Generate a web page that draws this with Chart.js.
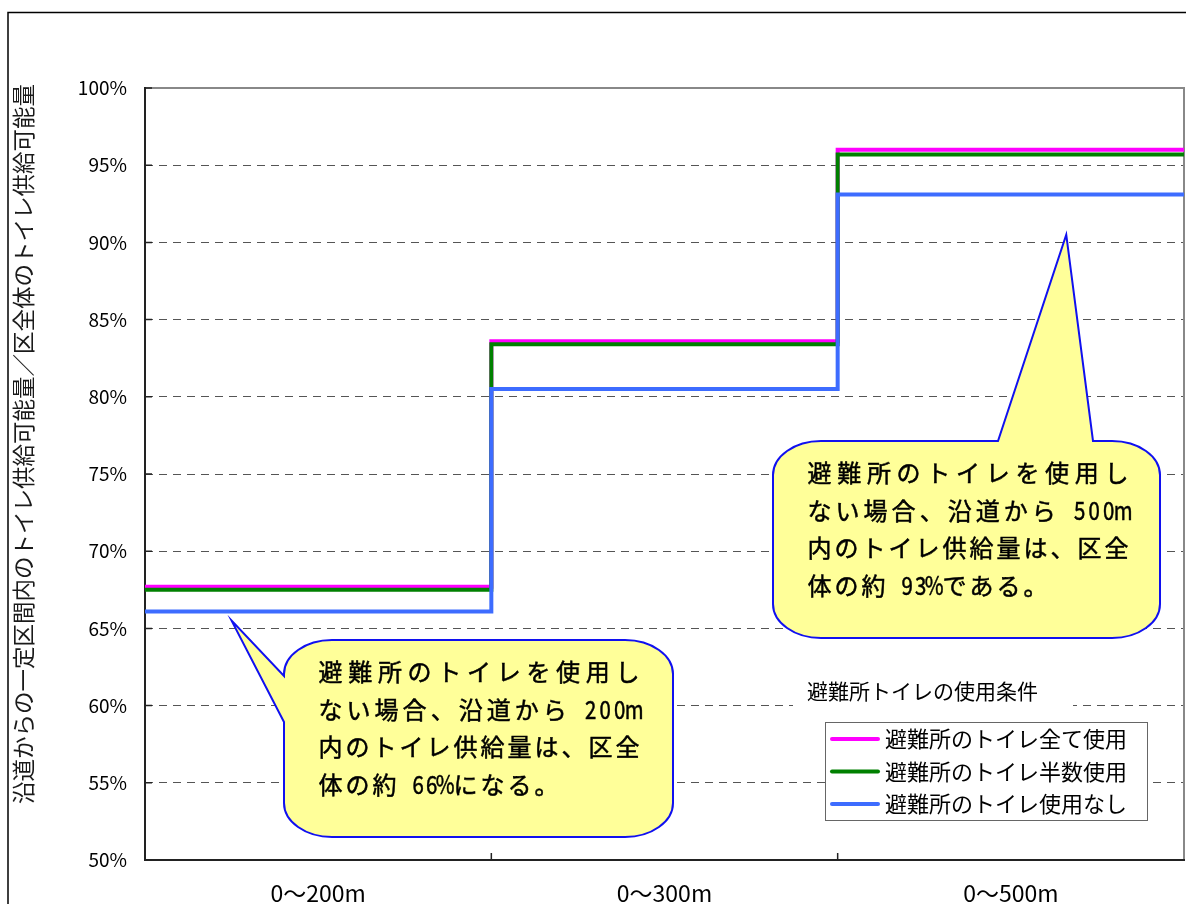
<!DOCTYPE html>
<html>
<head>
<meta charset="utf-8">
<script src="https://cdn.jsdelivr.net/npm/chart.js@4.4.1/dist/chart.umd.min.js"></script>
<style>
  html, body { margin: 0; padding: 0; background: #fff; }
  #wrap { width: 1186px; height: 904px; position: relative; }
</style>
</head>
<body>
<div id="wrap"><canvas id="chart"></canvas></div>
<script>
const categories = ['0〜200m', '0〜300m', '0〜500m'];
const seriesNames = ['避難所のトイレ全て使用', '避難所のトイレ半数使用', '避難所のトイレ使用なし'];
const allUse = [67.7, 83.6, 96.0];
const halfUse = [67.5, 83.4, 95.7];
const noUse = [66.1, 80.5, 93.1];
const yTicks = [50, 55, 60, 65, 70, 75, 80, 85, 90, 95, 100];
const yTitle = '沿道からの一定区間内のトイレ供給可能量／区全体のトイレ供給可能量';
const legendTitle = '避難所トイレの使用条件';
const note200 = ['避難所のトイレを使用し', 'ない場合、沿道から 200m', '内のトイレ供給量は、区全', '体の約 66%になる。'];
const note500 = ['避難所のトイレを使用し', 'ない場合、沿道から 500m', '内のトイレ供給量は、区全', '体の約 93%である。'];

const JP = '"Noto Sans CJK JP", "Noto Sans", sans-serif';

// each category is one step: x = i .. i+1
const steps = vals => vals.map((v, i) => ({ x: i, y: v })).concat([{ x: vals.length, y: vals[vals.length - 1] }]);

// callout boxes (pixels) with the pointer tip anchored in data units
const callouts = [
  { lines: note200, box: { l: 284, t: 640, r: 673, b: 837 }, tip: { x: 0.25, y: 65.5 }, side: 'left', base: [676, 722] },
  { lines: note500, box: { l: 773, t: 441, r: 1160, b: 638 }, tip: { x: 2.66, y: 90.5 }, side: 'top', base: [998, 1093] },
];

function calloutPath(ctx, c, tip) {
  const { l, t, r, b } = c.box;
  const rx = 48, ry = 34, k = 0.5523;
  ctx.beginPath();
  ctx.moveTo(l + rx, t);
  if (c.side === 'top') {
    ctx.lineTo(c.base[0], t);
    ctx.lineTo(tip.x, tip.y);
    ctx.lineTo(c.base[1], t);
  }
  ctx.lineTo(r - rx, t);
  ctx.bezierCurveTo(r - rx + rx * k, t, r, t + ry - ry * k, r, t + ry);
  ctx.lineTo(r, b - ry);
  ctx.bezierCurveTo(r, b - ry + ry * k, r - rx + rx * k, b, r - rx, b);
  ctx.lineTo(l + rx, b);
  ctx.bezierCurveTo(l + rx - rx * k, b, l, b - ry + ry * k, l, b - ry);
  if (c.side === 'left') {
    ctx.lineTo(l, c.base[1]);
    ctx.lineTo(tip.x, tip.y);
    ctx.lineTo(l, c.base[0]);
  }
  ctx.lineTo(l, t + ry);
  ctx.bezierCurveTo(l, t + ry - ry * k, l + rx - rx * k, t, l + rx, t);
  ctx.closePath();
}

function drawNote(ctx, lines, x, y) {
  const full = 27, half = 13.5, width = 324, lh = 37.5;
  ctx.font = '24px ' + JP;
  ctx.fillStyle = '#000';
  ctx.strokeStyle = '#000';
  ctx.lineWidth = 0.5;
  ctx.textAlign = 'center';
  ctx.textBaseline = 'middle';
  lines.forEach((line, li) => {
    const chars = Array.from(line);
    const adv = chars.map(ch => ch.charCodeAt(0) < 0x2000 ? half : full);
    const nat = adv.reduce((a, v) => a + v, 0);
    const extra = li < lines.length - 1 ? (width - nat) / (chars.length - 1) : 0;
    let cx = x;
    chars.forEach((ch, i) => {
      ctx.save();
      ctx.translate(cx + adv[i] / 2, y + li * lh);
      if (adv[i] === half) ctx.scale(0.85, 1.05);
      ctx.fillText(ch, 0, 0);
      ctx.strokeText(ch, 0, 0);
      ctx.restore();
      cx += adv[i] + extra;
    });
  });
}

const decor = {
  id: 'decor',
  beforeDraw(chart) {
    const ctx = chart.ctx;
    ctx.save();
    ctx.fillStyle = '#fff';
    ctx.fillRect(0, 0, chart.width, chart.height);
    // outer frame
    ctx.strokeStyle = '#000';
    ctx.lineWidth = 1.5;
    ctx.beginPath();
    ctx.moveTo(8, chart.height);
    ctx.lineTo(8, 12.5);
    ctx.lineTo(chart.width, 12.5);
    ctx.stroke();
    // y title
    ctx.translate(23, 444);
    ctx.rotate(-Math.PI / 2);
    ctx.font = '22.5px ' + JP;
    ctx.fillStyle = '#1a1a1a';
    ctx.textAlign = 'center';
    ctx.textBaseline = 'middle';
    ctx.fillText(yTitle, 0, 0);
    ctx.restore();
  },
  beforeDatasetsDraw(chart) {
    const { ctx, chartArea: a, scales: { x, y } } = chart;
    ctx.save();
    ctx.lineWidth = 2;
    ctx.strokeStyle = '#888';
    ctx.beginPath();
    ctx.moveTo(a.left, a.top);
    ctx.lineTo(a.right, a.top);
    ctx.lineTo(a.right, a.bottom);
    ctx.stroke();
    ctx.strokeStyle = '#222';
    ctx.beginPath();
    ctx.moveTo(a.left, a.top - 1);
    ctx.lineTo(a.left, a.bottom);
    ctx.lineTo(a.right + 1, a.bottom);
    ctx.stroke();
    // inside tick marks
    ctx.lineWidth = 1.5;
    ctx.beginPath();
    yTicks.forEach(v => {
      const py = y.getPixelForValue(v);
      ctx.moveTo(a.left, py);
      ctx.lineTo(a.left + 7, py);
    });
    for (let i = 1; i < categories.length; i++) {
      const px = x.getPixelForValue(i);
      ctx.moveTo(px, a.bottom);
      ctx.lineTo(px, a.bottom - 7);
    }
    ctx.stroke();
    ctx.restore();
  },
  afterDraw(chart) {
    const { ctx, scales: { x, y } } = chart;
    ctx.save();
    callouts.forEach(c => {
      const tip = { x: x.getPixelForValue(c.tip.x), y: y.getPixelForValue(c.tip.y) };
      calloutPath(ctx, c, tip);
      ctx.fillStyle = '#ffff99';
      ctx.fill();
      ctx.strokeStyle = '#1010f0';
      ctx.lineWidth = 2;
      ctx.stroke();
      drawNote(ctx, c.lines, c.box.l + 33, c.box.t + 32);
    });

    // legend
    ctx.fillStyle = '#fff';
    ctx.fillRect(793, 672, 280, 38);
    ctx.fillStyle = '#000';
    ctx.font = '21px ' + JP;
    ctx.textAlign = 'left';
    ctx.textBaseline = 'middle';
    ctx.fillText(legendTitle, 807, 691);

    ctx.fillStyle = '#fff';
    ctx.fillRect(825, 722, 322, 98);
    ctx.strokeStyle = '#666';
    ctx.lineWidth = 1;
    ctx.strokeRect(825.5, 722.5, 322, 98);
    chart.data.datasets.forEach((ds, i) => {
      const ly = 739 + i * 32.5;
      ctx.strokeStyle = ds.borderColor;
      ctx.lineWidth = 4;
      ctx.lineCap = 'round';
      ctx.beginPath();
      ctx.moveTo(832, ly);
      ctx.lineTo(878, ly);
      ctx.stroke();
      ctx.fillStyle = '#000';
      ctx.font = '22px ' + JP;
      ctx.fillText(ds.label, 885, ly);
    });
    ctx.restore();
  }
};

const line = (label, vals, color, order) => ({
  label, data: steps(vals), borderColor: color, borderWidth: 4,
  stepped: true, pointRadius: 0, fill: false, order,
  borderCapStyle: 'butt', borderJoinStyle: 'miter'
});

new Chart(document.getElementById('chart'), {
  type: 'line',
  data: {
    datasets: [
      line(seriesNames[0], allUse, '#ff00ff', 3),
      line(seriesNames[1], halfUse, '#008000', 2),
      line(seriesNames[2], noUse, '#3d6cff', 1),
    ]
  },
  options: {
    responsive: true,
    maintainAspectRatio: false,
    animation: false,
    layout: { padding: { top: 88, right: 2, left: 0, bottom: 0 } },
    plugins: { legend: { display: false }, tooltip: { enabled: false } },
    scales: {
      x: {
        type: 'linear', min: 0, max: categories.length,
        afterBuildTicks: s => { s.ticks = categories.map((c, i) => ({ value: i + 0.5 })); },
        afterFit: s => { s.height = 44; },
        ticks: {
          autoSkip: false, maxRotation: 0, padding: 19, color: '#000',
          font: { family: JP, size: 23 },
          callback: (v, i) => categories[i]
        },
        grid: { display: false, drawTicks: false },
        border: { display: false }
      },
      y: {
        min: 50, max: 100,
        afterBuildTicks: s => { s.ticks = yTicks.map(v => ({ value: v })); },
        afterFit: s => { s.width = 145; },
        ticks: {
          padding: 18, color: '#000',
          font: { family: JP, size: 19 },
          callback: v => v + '%'
        },
        grid: {
          drawTicks: false, lineWidth: 1,
          color: c => (c.tick && (c.tick.value === 50 || c.tick.value === 100)) ? 'rgba(0,0,0,0)' : '#555'
        },
        border: { display: false, dash: [8, 6] }
      }
    }
  },
  plugins: [decor]
});
</script>
</body>
</html>
